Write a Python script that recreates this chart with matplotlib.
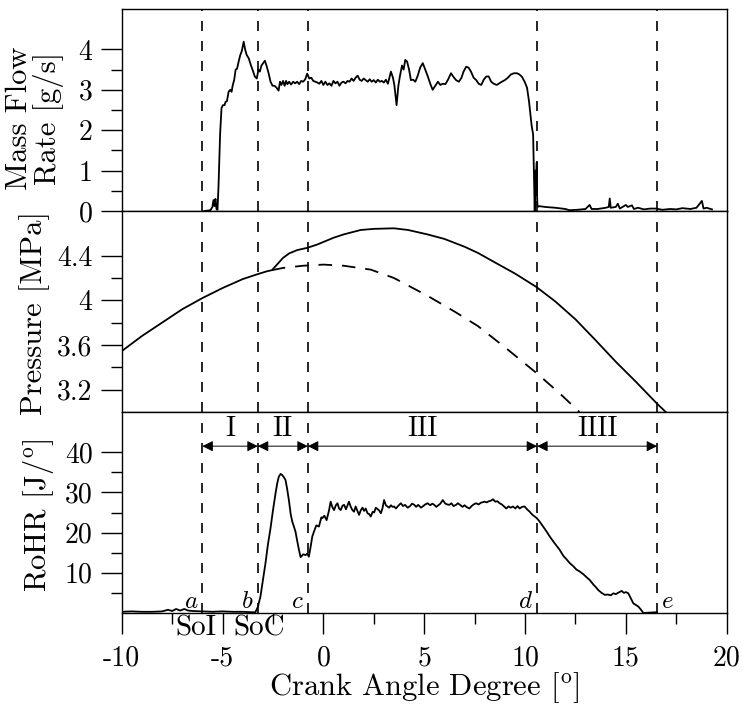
import matplotlib
matplotlib.use('Agg')
import matplotlib.pyplot as plt

plt.rcParams['font.family'] = 'serif'
plt.rcParams['font.serif'] = ['cmr10']
plt.rcParams['mathtext.fontset'] = 'cm'
plt.rcParams['axes.unicode_minus'] = False
plt.rcParams['axes.linewidth'] = 1.0

# mass flow rate [g/s]
mf_x = [-5.9, -5.6, -5.5, -5.45, -5.4, -5.35, -5.3, -5.25, -5.2, -5.12, -5.05, -4.98, -4.9, -4.85,
        -4.78, -4.7, -4.62, -4.55, -4.5, -4.42, -4.35, -4.28, -4.2, -4.12, -4.05, -3.95, -3.88,
        -3.8, -3.7, -3.6, -3.5, -3.4, -3.3, -3.22, -3.15, -3.07, -3.0, -2.9, -2.82, -2.72, -2.62,
        -2.52, -2.42, -2.32, -2.22, -2.15, -2.08, -2.0, -1.92, -1.85, -1.78, -1.7, -1.6, -1.5,
        -1.4, -1.3, -1.2, -1.1, -1.0, -0.9, -0.8, -0.7, -0.6, -0.5, -0.4, -0.3, -0.2, -0.1, 0.0,
        0.1, 0.2, 0.3, 0.4, 0.5, 0.6, 0.7, 0.8, 0.9, 1.0, 1.1, 1.2, 1.3, 1.4, 1.5, 1.6, 1.7, 1.8,
        1.9, 2.0, 2.1, 2.2, 2.3, 2.4, 2.5, 2.6, 2.7, 2.8, 2.9, 3.0, 3.1, 3.2, 3.35, 3.45, 3.52,
        3.63, 3.72, 3.8, 3.9, 3.98, 4.06, 4.15, 4.25, 4.34, 4.45, 4.56, 4.68, 4.8, 4.93, 5.05,
        5.18, 5.3, 5.42, 5.55, 5.68, 5.8, 5.92, 6.05, 6.18, 6.33, 6.45, 6.58, 6.72, 6.85, 6.95,
        7.08, 7.2, 7.32, 7.45, 7.58, 7.7, 7.83, 7.95, 8.08, 8.2, 8.32, 8.45, 8.6, 8.72, 8.85, 9.0,
        9.15, 9.3, 9.45, 9.6, 9.72, 9.85, 9.98, 10.1, 10.2, 10.26, 10.33, 10.4, 10.43, 10.46,
        10.48, 10.5, 10.52, 10.54, 10.56, 10.58, 10.6, 10.62, 10.7, 11.0, 11.5, 12.0, 12.2, 12.6,
        13.0, 13.2, 13.3, 13.6, 14.0, 14.15, 14.2, 14.25, 14.5, 14.6, 14.7, 14.9, 15.0, 15.1,
        15.3, 15.4, 15.6, 15.9, 16.2, 16.5, 16.8, 17.2, 17.5, 17.8, 18.2, 18.5, 18.77, 18.85,
        19.0, 19.27]
mf_y = [0.0, 0.02, 0.1, 0.27, 0.12, 0.3, 0.05, 0.03, 0.6, 1.9, 2.55, 2.62, 2.62, 2.7,
        2.72, 2.95, 3.0, 2.95, 3.1, 3.25, 3.5, 3.52, 3.7, 3.86, 3.95, 4.19, 4.0,
        3.86, 3.78, 3.62, 3.48, 3.33, 3.28, 3.5, 3.45, 3.6, 3.65, 3.72, 3.6, 3.42, 3.2,
        3.1, 3.1, 3.05, 2.98, 3.2, 3.12, 3.22, 3.1, 3.22, 3.14, 3.2, 3.13, 3.2,
        3.16, 3.2, 3.14, 3.22, 3.2, 3.26, 3.4, 3.28, 3.3, 3.22, 3.2, 3.18, 3.15, 3.22, 3.12,
        3.2, 3.12, 3.16, 3.1, 3.22, 3.16, 3.2, 3.1, 3.18, 3.2, 3.16, 3.22, 3.2, 3.28, 3.22, 3.3, 3.35, 3.25,
        3.22, 3.28, 3.24, 3.2, 3.26, 3.2, 3.24, 3.18, 3.25, 3.2, 3.22, 3.18, 3.25, 3.15, 3.45, 3.3, 3.12,
        2.62, 3.1, 3.35, 3.6, 3.5, 3.74, 3.7, 3.5, 3.24, 3.25, 3.2, 3.35, 3.55, 3.66, 3.5,
        3.33, 3.15, 3.0, 3.1, 3.2, 3.12, 3.15, 3.14, 3.25, 3.41, 3.32, 3.24, 3.2, 3.3, 3.45,
        3.57, 3.55, 3.45, 3.3, 3.24, 3.15, 3.12, 3.25, 3.33, 3.33, 3.2, 3.15, 3.12, 3.16, 3.2, 3.24,
        3.3, 3.38, 3.41, 3.41, 3.38, 3.32, 3.2, 3.05, 2.7, 2.42, 2.1, 1.9, 1.2, 0.5,
        0.0, 0.8, 1.0, 0.4, 0.9, 1.2, 0.3, 0.1, 0.12, 0.1, 0.08, 0.05, 0.02, 0.03,
        0.05, 0.15, 0.05, 0.05, 0.08, 0.1, 0.31, 0.08, 0.1, 0.18, 0.06, 0.12, 0.15, 0.1,
        0.14, 0.05, 0.08, 0.04, 0.06, 0.06, 0.03, 0.05, 0.04, 0.07, 0.05, 0.08, 0.25, 0.06,
        0.08, 0.04]

# cylinder pressure [MPa], fired and motored
p_x = [-10, -9, -8, -7, -6, -5, -4, -3.25, -2.8, -2.55, -2.3, -2.0, -1.7, -1.3, -0.8, -0.3,
       0.5, 1.0, 1.85, 2.5, 3.5, 4.2, 5.17, 6.0, 7.0, 7.66, 8.5, 9.5, 10.56, 11.5, 12.5, 13.46,
       14.5, 15.5, 16.57, 16.98]
p_y = [3.545, 3.68, 3.80, 3.92, 4.02, 4.11, 4.19, 4.235, 4.26, 4.27, 4.32, 4.38, 4.42, 4.45,
       4.47, 4.50, 4.56, 4.59, 4.63, 4.64, 4.645, 4.63, 4.59, 4.55, 4.48, 4.425, 4.34, 4.24,
       4.12, 3.99, 3.83, 3.65, 3.45, 3.27, 3.07, 3.0]
pm_x = [-2.55, -2.0, -1.0, 0.0, 1.0, 2.35, 3.5, 5.17, 6.5, 7.66, 9.0, 10.56, 11.7, 12.7]
pm_y = [4.27, 4.29, 4.31, 4.32, 4.31, 4.275, 4.20, 4.04, 3.90, 3.77, 3.58, 3.35, 3.17, 3.0]

# rate of heat release [J/deg]
hr_x = [-10, -9.5, -9, -8.5, -8, -7.7, -7.5, -7.3, -7.1, -6.9, -6.7, -6.5, -6.0, -5.5, -5.0,
        -4.5, -4.0, -3.6, -3.37, -3.25, -3.12, -3.0, -2.87, -2.75, -2.62, -2.5, -2.37, -2.29,
        -2.21, -2.12, -2.04, -1.96, -1.88, -1.8, -1.71, -1.62, -1.54, -1.46, -1.38, -1.3, -1.21,
        -1.13, -1.0, -0.88, -0.8, -0.72, -0.63, -0.55, -0.47, -0.35, -0.22, -0.1, -0.05, 0.05,
        0.16, 0.28, 0.36, 0.45, 0.53, 0.62, 0.7, 0.78, 0.86, 0.95, 1.03, 1.12, 1.2, 1.27, 1.35,
        1.44, 1.52, 1.6, 1.68, 1.77, 1.85, 1.94, 2.02, 2.1, 2.19, 2.27, 2.35, 2.45, 2.52, 2.6,
        2.7, 2.77, 2.85, 2.93, 3.01, 3.1, 3.18, 3.26, 3.35, 3.43, 3.51, 3.6, 3.7, 3.84, 3.95,
        4.05, 4.18, 4.3, 4.4, 4.51, 4.6, 4.7, 4.84, 4.95, 5.05, 5.17, 5.3, 5.4, 5.5, 5.6, 5.7,
        5.8, 5.92, 6.05, 6.15, 6.25, 6.35, 6.45, 6.58, 6.67, 6.78, 6.9, 7.0, 7.12, 7.24, 7.35,
        7.45, 7.57, 7.7, 7.8, 7.99, 8.1, 8.2, 8.3, 8.41, 8.52, 8.63, 8.74, 8.85, 8.96, 9.07,
        9.18, 9.29, 9.4, 9.52, 9.63, 9.73, 9.85, 9.98, 10.1, 10.23, 10.35, 10.48, 10.58, 10.73,
        10.9, 11.05, 11.23, 11.4, 11.55, 11.72, 11.9, 12.05, 12.22, 12.4, 12.55, 12.72, 12.9,
        13.05, 13.21, 13.4, 13.5, 13.63, 13.8, 13.96, 14.1, 14.25, 14.38, 14.5, 14.65, 14.79,
        14.9, 15.0, 15.12, 15.25, 15.37, 15.5, 15.62, 15.75, 15.87, 16.2, 16.53]
hr_y = [0.3, 0.4, 0.3, 0.3, 0.4, 0.8, 0.5, 1.0, 0.6, 1.0, 0.6, 0.5, 0.4, 0.3, 0.4,
        0.3, 0.3, 0.2, 0.2, 1.5, 4.1, 8.0, 12.4, 17.0, 21.1, 25.5, 29.8, 32.2,
        33.9, 34.6, 34.3, 33.8, 33.1, 31.0, 28.1, 24.6, 22.7, 21.5, 20.2, 18.0, 15.7,
        13.9, 14.6, 14.4, 14.8, 14.0, 16.5, 19.0, 20.2, 21.8, 21.5, 23.8, 23.6, 24.2,
        23.1, 25.5, 27.7, 26.3, 25.6, 26.8, 27.3, 26.0, 25.6, 26.7, 26.9, 25.8, 26.8, 27.7, 26.5,
        25.6, 25.2, 26.5, 25.5, 24.4, 25.5, 26.2, 25.4, 26.0, 24.8, 24.6, 24.0, 25.2, 25.0, 26.2,
        25.8, 25.5, 24.8, 26.0, 28.1, 26.8, 26.5, 26.2, 26.8, 26.4, 26.5, 26.0, 26.6, 27.3, 26.6,
        26.9, 26.2, 26.6, 27.2, 26.9, 26.4, 26.9, 26.2, 26.6, 27.0, 27.3, 26.8, 27.2, 26.9, 26.4, 26.8,
        27.2, 28.1, 27.2, 27.0, 26.9, 27.3, 26.6, 26.9, 27.3, 26.9, 26.4, 26.8, 26.3, 26.0, 26.6,
        27.0, 27.3, 27.0, 27.4, 27.7, 27.5, 27.8, 27.9, 28.3, 27.7, 27.8, 27.3, 27.0, 26.5, 26.0,
        26.5, 26.2, 26.5, 26.0, 26.6, 26.0, 26.4, 26.5, 25.8, 25.2, 24.5, 24.0, 23.6, 22.7,
        21.5, 20.4, 19.0, 17.8, 16.8, 15.7, 14.2, 13.4, 12.4, 11.6, 10.8, 10.3, 9.6,
        8.9, 8.2, 7.0, 6.5, 5.7, 5.0, 4.5, 4.6, 4.4, 4.9, 4.7, 5.1, 5.5,
        5.0, 5.2, 4.9, 3.6, 2.4, 2.0, 1.6, 0.8, 0.0, 0.1, 0.2]

# event markers (SoI, SoC, ...) and combustion phases
events = [-6.0, -3.25, -0.77, 10.6, 16.55]
event_letters = ['a', 'b', 'c', 'd', 'e']
phases = ['I', 'II', 'III', 'IIII']

x_major = [-10, -5, 0, 5, 10, 15, 20]
x_minor = [-7.5, -2.5, 2.5, 7.5, 12.5, 17.5]

fig = plt.figure(figsize=(7.42, 7.09), dpi=100)
left, width = 0.164, 0.8154
ax1 = fig.add_axes([left, 0.7024, width, 0.2849])
ax2 = fig.add_axes([left, 0.4189, width, 0.2835], sharex=ax1)
ax3 = fig.add_axes([left, 0.1354, width, 0.2835], sharex=ax1)

ax1.plot(mf_x, mf_y, color='black', lw=1.3)
ax2.plot(p_x, p_y, color='black', lw=1.3)
ax2.plot(pm_x, pm_y, color='black', lw=1.3, ls=(0, (7.5, 5.5)))
ax3.plot(hr_x, hr_y, color='black', lw=1.3)

for ax in (ax1, ax2, ax3):
    for x in events:
        ax.axvline(x, color='black', lw=1.2, ls=(0, (6, 6)))
    ax.tick_params(axis='y', which='major', direction='out', length=15, width=1.0,
                   labelsize=20, pad=6)
    ax.tick_params(axis='y', which='minor', direction='out', length=8, width=1.0)
for ax in (ax1, ax2):
    ax.tick_params(axis='x', which='both', bottom=False, labelbottom=False)

ax1.set_xlim(-10, 20)
ax1.set_ylim(0, 5)
ax1.set_yticks([0, 1, 2, 3, 4])
ax1.set_yticklabels(['0', '1', '2', '3', '4'])
ax1.set_yticks([0.5, 1.5, 2.5, 3.5], minor=True)

ax2.set_ylim(3.0, 4.8)
ax2.set_yticks([3.2, 3.6, 4.0, 4.4])
ax2.set_yticklabels(['3.2', '3.6', '4', '4.4'])
ax2.set_yticks([3.4, 3.8, 4.2], minor=True)

ax3.set_ylim(0, 50)
ax3.set_yticks([10, 20, 30, 40])
ax3.set_yticklabels(['10', '20', '30', '40'])
ax3.set_yticks([5, 15, 25, 35], minor=True)
ax3.set_xticks(x_major)
ax3.set_xticklabels([str(v) for v in x_major])
ax3.set_xticks(x_minor, minor=True)
ax3.tick_params(axis='x', which='major', direction='out', length=15, width=1.0,
                labelsize=20, pad=8)
ax3.tick_params(axis='x', which='minor', direction='out', length=8, width=1.0)

# phase arrows
for x0, x1, name in zip(events[:-1], events[1:], phases):
    ax3.annotate('', xy=(x1, 41.5), xytext=(x0, 41.5),
                 arrowprops=dict(arrowstyle='<|-|>', color='black', lw=0.7,
                                 shrinkA=0, shrinkB=0, mutation_scale=16))
    ax3.text((x0 + x1) / 2, 42.6, name, ha='center', va='bottom', fontsize=20)

for x, letter in zip(events, event_letters):
    if letter == 'e':
        ax3.annotate('$' + letter + '$', xy=(x, 1.2), xytext=(3, 0), textcoords='offset points',
                     ha='left', va='baseline', fontsize=18)
    else:
        ax3.annotate('$' + letter + '$', xy=(x, 1.2), xytext=(-3, 0), textcoords='offset points',
                     ha='right', va='baseline', fontsize=18)

ax3.text(-6.33, -0.01, 'SoI', transform=ax3.get_xaxis_transform(), ha='center', va='top',
         fontsize=21)
ax3.text(-3.16, -0.01, 'SoC', transform=ax3.get_xaxis_transform(), ha='center', va='top',
         fontsize=21)

fig.text(35 / 742, 1 - 118 / 709, 'Mass Flow\nRate [g/s]', rotation=90, ha='center',
         va='center', ma='center', fontsize=22, linespacing=1.0)
fig.text(35 / 742, 1 - 313 / 709, 'Pressure [MPa]', rotation=90, ha='center', va='center',
         fontsize=22)
fig.text(39 / 742, 1 - 515 / 709, r'RoHR [J/$^{\rm o}$]', rotation=90, ha='center',
         va='center', fontsize=22)
fig.text(424 / 742, 1 - 688 / 709, r'Crank Angle Degree [$^{\rm o}$]', ha='center',
         va='center', fontsize=22)

fig.savefig('out.png', dpi=100)
